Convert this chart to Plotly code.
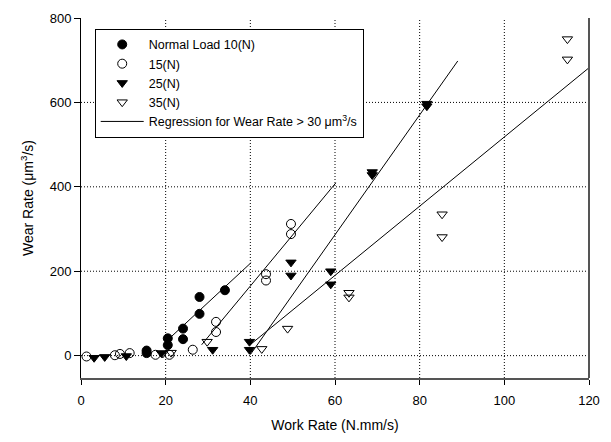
import numpy as np
import plotly.graph_objects as go

# Work rate (N.mm/s) and wear rate (um^3/s) for each normal load
x_10n = [15.5, 15.5, 20.5, 20.5, 24.1, 24.1, 28.0, 28.0, 34.0]
y_10n = [12, 6, 41, 25, 64, 39, 139, 99, 155]

x_15n = [1.3, 8.0, 9.2, 11.5, 17.6, 20.9, 26.4, 31.9, 31.9, 43.7, 43.7, 49.6, 49.6]
y_15n = [-2, 1, 4, 6, 2, 2, 14, 80, 56, 193, 178, 312, 288]

x_25n = [3.1, 5.6, 10.7, 19.0, 31.1, 39.8, 39.8, 49.6, 49.6, 59.0, 59.0, 68.8, 68.8, 81.7, 81.7]
y_25n = [-5, -3, -1, 6, 14, 33, 14, 221, 190, 200, 169, 435, 428, 597, 591]

x_35n = [19.3, 21.3, 29.8, 42.7, 48.8, 63.3, 63.3, 85.3, 85.3, 114.9, 114.9]
y_35n = [5, 7, 33, 16, 64, 149, 138, 335, 281, 750, 702]

# Linear regressions (wear rate > 30 um^3/s): slope, intercept and fitted x-span
fit_slope = [9.3, 12.1, 14.2, 8.2]
fit_intercept = [-153.4, -319.1, -565.6, -301.9]
fit_xmin = [20.5, 28.5, 40.0, 40.0]
fit_xmax = [40.2, 60.2, 89.0, 120.0]

x_ticks = [0, 20, 40, 60, 80, 100, 120]
y_ticks = [0, 200, 400, 600, 800]
x_grid = [20, 40, 60, 80, 100]
y_grid = [0, 200, 400, 600]

X_RANGE = [0, 120]
Y_RANGE = [-53, 800]

FONT = "Liberation Sans, Arial, sans-serif"

fig = go.Figure()

series = [
    ("Normal Load 10(N)", x_10n, y_10n, "circle"),
    ("15(N)", x_15n, y_15n, "circle-open"),
    ("25(N)", x_25n, y_25n, "triangle-down"),
    ("35(N)", x_35n, y_35n, "triangle-down-open"),
]

for i, (s, b, xmin, xmax) in enumerate(zip(fit_slope, fit_intercept, fit_xmin, fit_xmax)):
    xs = np.array([xmin, xmax])
    fig.add_trace(go.Scatter(
        x=xs, y=s * xs + b, mode="lines",
        line=dict(color="black", width=1),
        name="Regression for Wear Rate > 30 \u03bcm<sup>3</sup>/s",
        legendgroup="fit", showlegend=(i == 0), legendrank=10,
    ))

for rank, (name, xs, ys, sym) in enumerate(series):
    fig.add_trace(go.Scatter(
        x=xs, y=ys, mode="markers", name=name, legendrank=rank + 1,
        marker=dict(symbol=sym, size=9, color="black",
                    line=dict(color="black", width=1)),
    ))

# Dotted grid
for gx in x_grid:
    fig.add_shape(type="line", x0=gx, x1=gx, y0=Y_RANGE[0], y1=Y_RANGE[1],
                  xref="x", yref="y", layer="below",
                  line=dict(color="black", width=1, dash="1px,2px"))
for gy in y_grid:
    fig.add_shape(type="line", x0=X_RANGE[0], x1=X_RANGE[1], y0=gy, y1=gy,
                  xref="x", yref="y", layer="below",
                  line=dict(color="black", width=1, dash="1px,2px"))

# Right frame edge
fig.add_shape(type="line", x0=1, x1=1, y0=0, y1=1, xref="paper", yref="paper",
              line=dict(color="#555555", width=2))

fig.update_layout(
    width=611, height=442,
    margin=dict(l=81, r=20, t=11, b=63),
    plot_bgcolor="white", paper_bgcolor="white",
    font=dict(family=FONT, size=13, color="black"),
    showlegend=True,
    legend=dict(
        x=0.027, y=0.97, xanchor="left", yanchor="top",
        bgcolor="white", bordercolor="black", borderwidth=1,
        font=dict(family=FONT, size=12.5, color="black"),
        traceorder="normal", tracegroupgap=0, itemwidth=43,
    ),
    xaxis=dict(
        range=X_RANGE, tickvals=x_ticks, showgrid=False, zeroline=False,
        showline=True, linecolor="#555555", linewidth=2,
        ticks="outside", ticklen=5, tickcolor="black", tickwidth=1,
        ticklabelstandoff=4,
        title=dict(text="Work Rate (N.mm/s)", font=dict(size=14), standoff=14),
        tickfont=dict(size=13),
    ),
    yaxis=dict(
        range=Y_RANGE, tickvals=y_ticks, showgrid=False, zeroline=False,
        showline=True, linecolor="black", linewidth=1,
        ticks="outside", ticklen=6, tickcolor="black", tickwidth=1,
        title=dict(text="Wear Rate (\u03bcm<sup>3</sup>/s)", font=dict(size=14), standoff=12),
        tickfont=dict(size=13),
    ),
)

fig.write_html("out.html")
